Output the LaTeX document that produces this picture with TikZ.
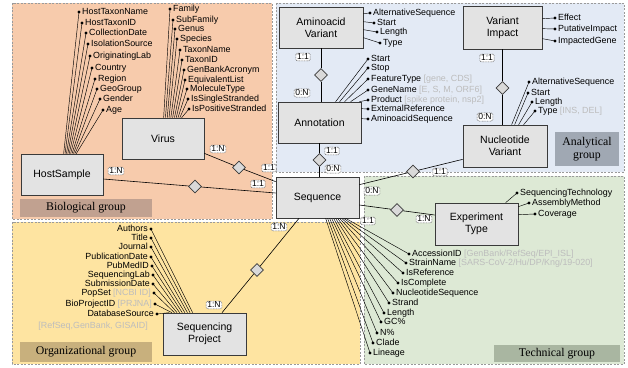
\documentclass[tikz,border=0pt]{standalone}
\usepackage{fontspec}
\setmainfont{Liberation Serif}
\setsansfont{Liberation Sans}
\usetikzlibrary{shapes.geometric,calc}
\definecolor{biofill}{HTML}{F7CBAC}
\definecolor{anafill}{HTML}{E3EAF5}
\definecolor{techfill}{HTML}{DDE9D5}
\definecolor{orgfill}{HTML}{FEE4A1}
\definecolor{biolab}{HTML}{C1A190}
\definecolor{orglab}{HTML}{C8B07D}
\definecolor{techlab}{HTML}{A9B6A1}
\definecolor{analab}{HTML}{A0A8B3}
\definecolor{boxfill}{HTML}{E3E3E3}
\definecolor{diafill}{HTML}{D9D9D9}
\definecolor{gtxt}{HTML}{BDBDBD}
\definecolor{edge}{HTML}{3A3A3A}
\definecolor{regline}{HTML}{9A9A9A}

\newcommand{\attrW}[4]{%
  \node[attr,anchor=west] (#1) at (#2) {#3};
  \fill (#1.west) circle (1.7);
  \draw[attrline] (#1.west) -- #4;}
\newcommand{\attrE}[4]{%
  \node[attr,anchor=east] (#1) at (#2) {#3};
  \fill (#1.east) circle (1.7);
  \draw[attrline] (#1.east) -- #4;}

\begin{document}
\begin{tikzpicture}[x=1pt,y=-1pt,
  region/.style={draw=regline, dash pattern=on 2pt off 1.5pt, line width=0.6pt},
  grouplabel/.style={font=\rmfamily\fontsize{11.8}{13}\selectfont, inner sep=0pt, align=center},
  entity/.style={draw=edge, fill=boxfill, line width=0.7pt, minimum width=83, minimum height=41, inner sep=0pt, align=center, font=\sffamily\fontsize{10.5}{12}\selectfont},
  rel/.style={diamond, draw=edge, fill=diafill, line width=0.6pt, minimum width=13, minimum height=13, inner sep=0pt},
  card/.style={draw=black!60, dash pattern=on 0.9pt off 0.7pt, line width=0.55pt, fill=white, rounded corners=1.5pt, inner xsep=1.2pt, inner ysep=1pt, font=\sffamily\fontsize{8.6}{9}\selectfont},
  attr/.style={inner xsep=3pt, inner ysep=0pt, text height=6.3pt, text depth=1.8pt, font=\sffamily\fontsize{8.9}{10}\selectfont},
  attrline/.style={line width=0.45pt},
  relline/.style={line width=0.6pt, draw=black}
]
\useasboundingbox (0,0) rectangle (628,367);
\fill[white] (0,0) rectangle (628,367);

% regions
\draw[region, fill=biofill] (12,3) rectangle (272,219);
\draw[region, fill=anafill] (276,3) rectangle (624,172);
\draw[region, fill=techfill] (364,176) rectangle (624,364);
\draw[region, fill=orgfill] (12,222) rectangle (360,364);

% group labels
\node[grouplabel, fill=biolab, minimum width=132, minimum height=18] (glbio) at (86,208) {Biological group};
\node[grouplabel, fill=orglab, minimum width=132, minimum height=20] (glorg) at (86,352) {Organizational group};
\node[grouplabel, fill=techlab, minimum width=126, minimum height=17] (gltech) at (557,353.5) {Technical group};
\node[grouplabel, fill=analab, minimum width=64, minimum height=34] (glana) at (587,149) {Analytical\\group};

% entities
\node[entity, minimum width=82] (host) at (62,174.5) {HostSample};
\node[entity, minimum width=82] (virus) at (163,138.5) {Virus};
\node[entity, minimum width=84] (aa) at (321,27.5) {Aminoacid\\Variant};
\node[entity] (annot) at (319.5,122.5) {Annotation};
\node[entity, minimum width=79, minimum height=43] (vi) at (502.5,27.5) {Variant\\Impact};
\node[entity, minimum width=84, minimum height=42] (nv) at (505,146) {Nucleotide\\Variant};
\node[entity, minimum height=42] (exp) at (476.5,224) {Experiment\\Type};
\node[entity, minimum height=42] (sp) at (204.5,334) {Sequencing\\Project};
\node[entity] (seq) at (317.5,197.5) {Sequence};

% relationships
\node[rel] (r1) at (195,186.5) {};
\node[rel] (r2) at (239,167.5) {};
\node[rel] (r3) at (321,75) {};
\node[rel] (r4) at (319.5,160) {};
\node[rel] (r5) at (502.5,88) {};
\node[rel] (r6) at (413,171.5) {};
\node[rel] (r7) at (397,210) {};
\node[rel] (r8) at (257,270) {};

\draw[relline] ($(host.east)+(0,4.5)$) -- (r1) -- ($(seq.west)+(0,-4.5)$);
\draw[relline] ($(virus.south east)+(0,-6)$) -- (r2) -- ($(seq.north west)+(0,5)$);
\draw[relline] (aa.south) -- (r3) -- (aa.south |- annot.north);
\draw[relline] (annot.south) -- (r4) -- (annot.south |- seq.north);
\draw[relline] (vi.south) -- (r5) -- (vi.south |- nv.north);
\draw[relline] ($(seq.north east)+(0,8)$) -- (r6) -- ($(nv.south west)+(0,-8)$);
\draw[relline] ($(seq.east)+(0,7.5)$) -- (r7) -- ($(exp.west)+(0,-9)$);
\draw[relline] ($(seq.south)+(-18.5,0)$) -- (r8) -- ($(sp.north)+(17.5,0)$);

% cardinalities
\node[card] (c1) at (116,171) {1:N};
\node[card] (c2) at (258,184) {1:1};
\node[card] (c3) at (218,149) {1:N};
\node[card] (c4) at (269,168) {1:1};
\node[card] (c5) at (303,57) {1:1};
\node[card] (c6) at (302,93) {0:N};
\node[card] (c7) at (332,151) {1:1};
\node[card] (c8) at (333,169) {0:N};
\node[card] (c9) at (487,58) {1:1};
\node[card] (c10) at (485,117) {0:N};
\node[card] (c11) at (372,191) {0:N};
\node[card] (c12) at (440,172) {1:1};
\node[card] (c13) at (368,221) {1:1};
\node[card] (c14) at (424,219) {1:N};
\node[card] (c15) at (279,227) {1:N};
\node[card] (c16) at (214,305) {1:N};

% HostSample attributes
\attrW{ha0}{79,12}{HostTaxonName}{($(host.north west)+(43,0)$)}
\attrW{ha1}{82,23}{HostTaxonID}{($(host.north west)+(44.4,0)$)}
\attrW{ha2}{86,33}{CollectionDate}{($(host.north west)+(45.8,0)$)}
\attrW{ha3}{88,44}{IsolationSource}{($(host.north west)+(47.2,0)$)}
\attrW{ha4}{90,56}{OriginatingLab}{($(host.north west)+(48.6,0)$)}
\attrW{ha5}{92,68}{Country}{($(host.north west)+(50,0)$)}
\attrW{ha6}{95,79}{Region}{($(host.north west)+(51.4,0)$)}
\attrW{ha7}{97,89}{GeoGroup}{($(host.north west)+(52.8,0)$)}
\attrW{ha8}{100,99}{Gender}{($(host.north west)+(54.2,0)$)}
\attrW{ha9}{103,110}{Age}{($(host.north west)+(55.6,0)$)}

% Virus attributes
\attrW{va0}{170,9}{Family}{($(virus.north west)+(42,0)$)}
\attrW{va1}{173,20}{SubFamily}{($(virus.north west)+(43.8,0)$)}
\attrW{va2}{175,29}{Genus}{($(virus.north west)+(45.6,0)$)}
\attrW{va3}{177,39}{Species}{($(virus.north west)+(47.4,0)$)}
\attrW{va4}{180,50}{TaxonName}{($(virus.north west)+(49.2,0)$)}
\attrW{va5}{182,60}{TaxonID}{($(virus.north west)+(51,0)$)}
\attrW{va6}{184,70}{GenBankAcronym}{($(virus.north west)+(52.8,0)$)}
\attrW{va7}{185,80}{EquivalentList}{($(virus.north west)+(54.6,0)$)}
\attrW{va8}{187,89}{MoleculeType}{($(virus.north west)+(56.4,0)$)}
\attrW{va9}{188,99}{IsSingleStranded}{($(virus.north west)+(58.2,0)$)}
\attrW{va10}{189,109}{IsPositiveStranded}{($(virus.north west)+(60,0)$)}

% Aminoacid Variant attributes
\attrW{aa0}{370,13}{AlternativeSequence}{($(aa.north east)+(0,7)$)}
\attrW{aa1}{374,23}{Start}{($(aa.north east)+(0,15)$)}
\attrW{aa2}{377,32}{Length}{($(aa.north east)+(0,23)$)}
\attrW{aa3}{380,43}{Type}{($(aa.north east)+(0,31)$)}

% Annotation attributes
\attrW{an0}{368,59}{Start}{($(annot.north west)+(58,0)$)}
\attrW{an1}{368,68}{Stop}{($(annot.north west)+(62,0)$)}
\attrW{an2}{368,79}{FeatureType \textcolor{gtxt}{[gene, CDS]}}{($(annot.north west)+(67,0)$)}
\attrW{an3}{368,90}{GeneName \textcolor{gtxt}{[E, S, M, ORF6]}}{($(annot.north west)+(73,0)$)}
\attrW{an4}{368,100}{Product \textcolor{gtxt}{[spike protein, nsp2]}}{($(annot.north east)+(-2,0)$)}
\attrW{an5}{368,109}{ExternalReference}{($(annot.north east)+(0,7)$)}
\attrW{an6}{368,119}{AminoacidSequence}{($(annot.north east)+(0,17)$)}

% Variant Impact attributes
\attrW{vi0}{555,18}{Effect}{($(vi.north east)+(0,13)$)}
\attrW{vi1}{555,29}{PutativeImpact}{($(vi.north east)+(0,23)$)}
\attrW{vi2}{555,41}{ImpactedGene}{($(vi.north east)+(0,33)$)}

% Nucleotide Variant attributes
\attrW{nv0}{529,82}{AlternativeSequence}{($(nv.north west)+(49,0)$)}
\attrW{nv1}{528,93}{Start}{($(nv.north west)+(52,0)$)}
\attrW{nv2}{532,102}{Length}{($(nv.north west)+(56,0)$)}
\attrW{nv3}{535,111}{Type \textcolor{gtxt}{[INS, DEL]}}{($(nv.north west)+(61,0)$)}

% Experiment Type attributes
\attrW{ex0}{517,193}{SequencingTechnology}{($(exp.north west)+(71,0)$)}
\attrW{ex1}{529,203}{AssemblyMethod}{($(exp.north east)+(0,4)$)}
\attrW{ex2}{535,214}{Coverage}{($(exp.north east)+(0,12)$)}

% Sequence attributes
\attrW{sa0}{409,254}{AccessionID \textcolor{gtxt}{[GenBank/RefSeq/EPI\_ISL]}}{($(seq.south west)+(70,0)$)}
\attrW{sa1}{406,263}{StrainName \textcolor{gtxt}{[SARS-CoV-2/Hu/DP/Kng/19-020]}}{($(seq.south west)+(68,0)$)}
\attrW{sa2}{403,273}{IsReference}{($(seq.south west)+(66,0)$)}
\attrW{sa3}{398,283}{IsComplete}{($(seq.south west)+(64,0)$)}
\attrW{sa4}{393,293}{NucleotideSequence}{($(seq.south west)+(62,0)$)}
\attrW{sa5}{389,303}{Strand}{($(seq.south west)+(60,0)$)}
\attrW{sa6}{384,313}{Length}{($(seq.south west)+(58,0)$)}
\attrW{sa7}{381,322}{GC\%}{($(seq.south west)+(56,0)$)}
\attrW{sa8}{377,333}{N\%}{($(seq.south west)+(54,0)$)}
\attrW{sa9}{373,343}{Clade}{($(seq.south west)+(52,0)$)}
\attrW{sa10}{370,353}{Lineage}{($(seq.south west)+(50,0)$)}

% Sequencing Project attributes
\attrE{sp0}{151,229}{Authors}{($(sp.north west)+(30,0)$)}
\attrE{sp1}{151,238}{Title}{($(sp.north west)+(27.4,0)$)}
\attrE{sp2}{151,247}{Journal}{($(sp.north west)+(24.8,0)$)}
\attrE{sp3}{151,257}{PublicationDate}{($(sp.north west)+(22.2,0)$)}
\attrE{sp4}{152,266}{PubMedID}{($(sp.north west)+(19.6,0)$)}
\attrE{sp5}{153,275}{SequencingLab}{($(sp.north west)+(17,0)$)}
\attrE{sp6}{153,284}{SubmissionDate}{($(sp.north west)+(14.4,0)$)}
\attrE{sp7}{154,293}{PopSet \textcolor{gtxt}{[NCBI ID]}}{($(sp.north west)+(11.8,0)$)}
\attrE{sp8}{155,304}{BioProjectID \textcolor{gtxt}{[PRJNA]}}{($(sp.north west)+(9.2,0)$)}
\attrE{sp9}{157,314}{DatabaseSource}{($(sp.north west)+(6.6,0)$)}
\node[attr, anchor=east, text=gtxt] (sp9b) at (151,326) {[RefSeq,GenBank, GISAID]};

\end{tikzpicture}
\end{document}
